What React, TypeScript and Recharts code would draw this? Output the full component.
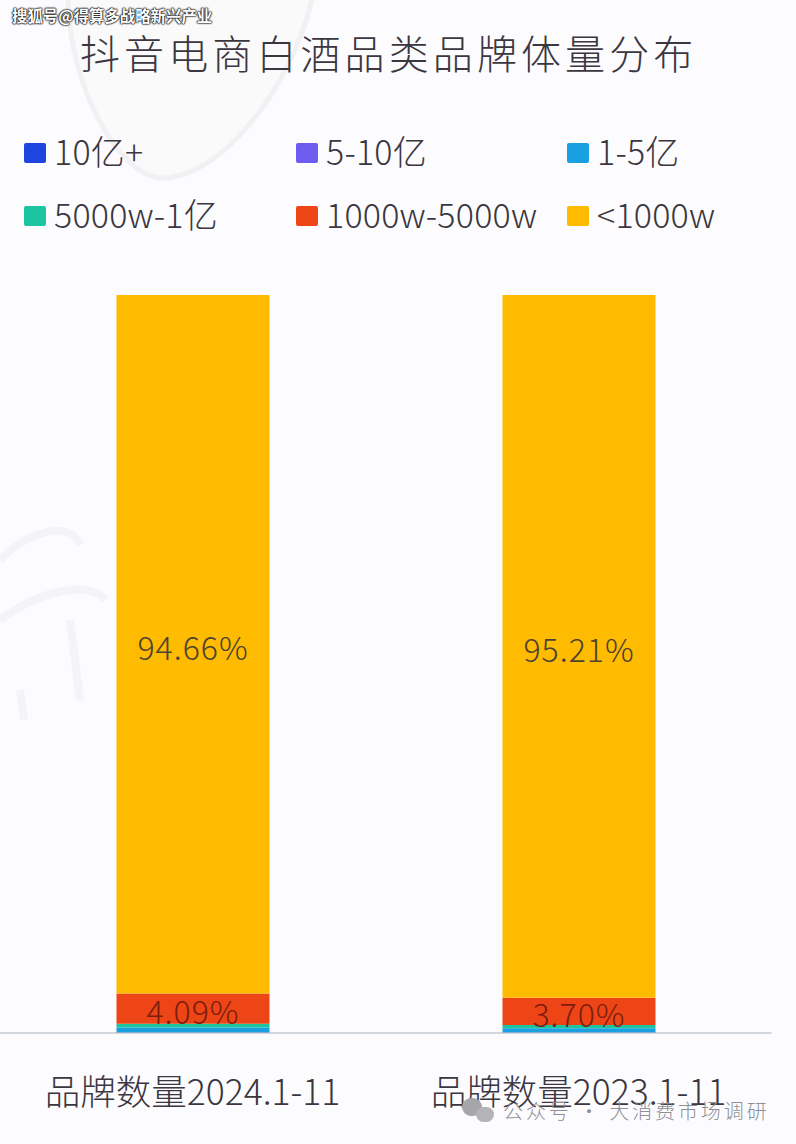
import React from 'react';
import { BarChart, Bar, XAxis, YAxis, LabelList } from 'recharts';

const CATEGORIES = ['品牌数量2024.1-11', '品牌数量2023.1-11'];
const SERIES_NAMES = ['10亿+', '5-10亿', '1-5亿', '5000w-1亿', '1000w-5000w', '<1000w'];
const SERIES_COLORS = ['#1f45e0', '#6c5cf0', '#18a0e0', '#1cc4a0', '#ee4516', '#ffbb00'];
const LEGEND_ORDER_X = [24, 296, 567];

const VALUES_2024 = [0.03, 0.05, 0.65, 0.52, 4.09, 94.66];
const VALUES_2023 = [0.02, 0.04, 0.58, 0.45, 3.7, 95.21];

const FONT = '"Noto Sans CJK SC", "Noto Sans", sans-serif';
const DARK = '#3b3640';

const chartData = CATEGORIES.map((name, i) => {
  const row: Record<string, string | number> = { name };
  SERIES_NAMES.forEach((s, j) => {
    row[s] = (i === 0 ? VALUES_2024 : VALUES_2023)[j];
  });
  return row;
});

const ChartLegend = () => (
  <div style={{ position: 'relative', width: 796, height: 120 }}>
    {SERIES_NAMES.map((s, i) => (
      <div
        key={s}
        style={{
          position: 'absolute',
          left: LEGEND_ORDER_X[i % 3],
          top: i < 3 ? 0 : 63,
          height: 40,
          display: 'flex',
          alignItems: 'center',
          fontFamily: FONT,
          fontWeight: 300,
          fontSize: 34,
          letterSpacing: 0.2,
          color: DARK,
          whiteSpace: 'nowrap',
        }}
      >
        <span style={{ width: 22, height: 20, background: SERIES_COLORS[i], borderRadius: 2, marginRight: 8 }} />
        <span style={{ position: 'relative', top: -3 }}>{s}</span>
      </div>
    ))}
  </div>
);

const App = () => (
  <div style={{ position: 'absolute', left: 0, top: 0, width: 796, height: 1144, background: '#fcfcfe', overflow: 'hidden' }}>
    {/* faint background watermark */}
    <svg width={796} height={1144} style={{ position: 'absolute', left: 0, top: 0 }}>
      <path d="M68 0 C70 90 120 175 160 178 C220 180 290 90 312 0" fill="#fafafb" stroke="#f1f1f4" strokeWidth={5} />
      <path d="M0 560 C30 530 70 520 80 545 M0 620 C40 590 90 580 105 600 M20 690 L24 720 M70 620 L80 700" stroke="#f4f4f6" strokeWidth={8} fill="none" />
    </svg>

    <div style={{ position: 'absolute', left: 12, top: 4, fontFamily: FONT, fontWeight: 700, fontSize: 15.4, lineHeight: '22px', color: '#fff', textShadow: '0 0 2px #111, 0 0 2px #111, 0 0 1px #111, 0 0 1px #111', whiteSpace: 'nowrap' }}>
      搜狐号@得算多战略新兴产业
    </div>

    <div style={{ position: 'absolute', left: 80, top: 23, fontFamily: FONT, fontWeight: 300, fontSize: 40, letterSpacing: 4.1, lineHeight: '58px', color: DARK, whiteSpace: 'nowrap' }}>
      抖音电商白酒品类品牌体量分布
    </div>

    <div style={{ position: 'absolute', left: 0, top: 133 }}>
      <ChartLegend />
    </div>

    <div style={{ position: 'absolute', left: 0, top: 0 }}>
      <BarChart
        width={796}
        height={1144}
        data={chartData}
        barSize={153}
        barCategoryGap={0}
        margin={{ top: 295, right: 24.5, left: -0.5, bottom: 41 }}
      >
        <XAxis
          dataKey="name"
          height={70}
          interval={0}
          tickLine={false}
          tickMargin={41}
          axisLine={{ stroke: '#a9b0bc', strokeWidth: 1 }}
          tick={{ fontSize: 35.5, fontFamily: FONT, fontWeight: 300, fill: DARK }}
        />
        <YAxis hide domain={[0, 100]} />
        {SERIES_NAMES.map((s, i) => (
          <Bar key={s} dataKey={s} stackId="a" fill={SERIES_COLORS[i]} isAnimationActive={false}>
            {i >= 4 && (
              <LabelList
                dataKey={s}
                position="center"
                offset={0}
                formatter={(v: number) => `${v.toFixed(2)}%`}
                style={{ fontSize: 32, letterSpacing: 1, fontFamily: FONT, fontWeight: 300, fill: i === 4 ? '#7c1d10' : '#4c4232', transform: 'translateY(4px)' }}
              />
            )}
          </Bar>
        ))}
      </BarChart>
    </div>

    <div style={{ position: 'absolute', left: 462, top: 1096, display: 'flex', alignItems: 'center', fontFamily: FONT, fontWeight: 300, fontSize: 20, color: '#8f8f96', whiteSpace: 'nowrap', letterSpacing: 2.9 }}>
      <span style={{ position: 'relative', width: 34, height: 26, marginRight: 7 }}>
        <span style={{ position: 'absolute', left: 0, top: 0, width: 20, height: 18, borderRadius: 10, background: '#a5a5aa' }} />
        <span style={{ position: 'absolute', left: 14, top: 9, width: 18, height: 15, borderRadius: 9, background: '#b4b4b8' }} />
      </span>
      公众号 · 大消费市场调研
    </div>
  </div>
);

export default App;
